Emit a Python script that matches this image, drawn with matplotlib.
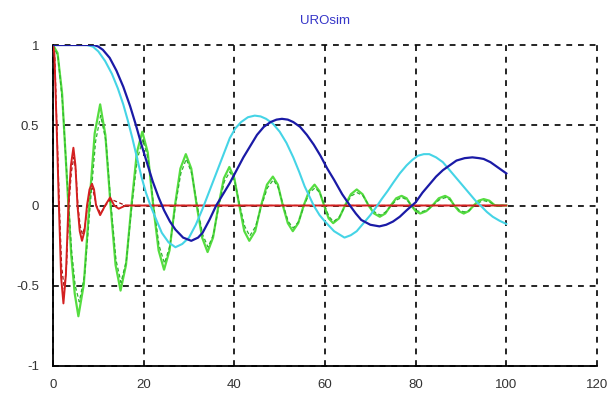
import matplotlib
matplotlib.use("Agg")
import matplotlib.pyplot as plt

# ---- data ----
blue_x = [0, 9, 10, 11, 12.5, 14, 15.5, 17, 18.3, 19.5, 20.8, 22, 23.3, 24.5, 25.8, 27, 28.7, 30.5,
          32, 33, 34.5, 36, 37.5, 39, 40.5, 42, 43.5, 45, 46.5, 48, 49.3, 50.5, 51.8, 53, 54.5, 56,
          57.5, 59, 60.5, 62, 63.8, 65.5, 66.8, 68, 70, 72, 73.5, 75, 76.5, 78, 80, 81.5, 83, 84.5,
          86, 87.5, 89, 90.8, 92.5, 94, 95, 96.5, 98, 100]
blue_y = [1, 1, 0.99, 0.97, 0.92, 0.84, 0.74, 0.62, 0.5, 0.38, 0.26, 0.15, 0.05, -0.03, -0.1, -0.15,
          -0.2, -0.22, -0.2, -0.17, -0.09, 0.0, 0.07, 0.14, 0.22, 0.3, 0.37, 0.44, 0.49, 0.52, 0.535,
          0.54, 0.535, 0.52, 0.49, 0.44, 0.38, 0.31, 0.23, 0.16, 0.07, 0.0, -0.05, -0.09, -0.12,
          -0.13, -0.12, -0.1, -0.07, -0.03, 0.02, 0.08, 0.13, 0.18, 0.22, 0.25, 0.28, 0.295, 0.3,
          0.295, 0.29, 0.27, 0.24, 0.2]

cyan_x = [0, 7.5, 8.8, 10, 11.5, 13, 14.3, 15.5, 16.5, 17.5, 18.5, 19.5, 20.5, 21.5, 22.8, 24, 25.5,
          27, 28.5, 30, 31.5, 33, 34.5, 36, 37.5, 39, 40.2, 41.5, 43, 44.5, 45.8, 47, 48.5, 50, 51.5,
          53, 54.3, 55.5, 56.5, 57.5, 58.8, 60, 62, 64.3, 65.7, 67, 68.5, 70, 71.3, 72.5, 73.8, 75,
          76.5, 78, 79.3, 80.5, 81.8, 83, 84.5, 86, 87.5, 89, 90.5, 92, 93.2, 94.3, 95.7, 97, 98.5,
          100]
cyan_y = [1, 1, 0.99, 0.96, 0.9, 0.82, 0.73, 0.63, 0.53, 0.42, 0.3, 0.18, 0.08, 0.0, -0.09, -0.17,
          -0.23, -0.26, -0.24, -0.2, -0.12, -0.02, 0.09, 0.2, 0.31, 0.42, 0.48, 0.52, 0.55, 0.56,
          0.555, 0.54, 0.51, 0.46, 0.39, 0.3, 0.21, 0.12, 0.06, 0.0, -0.06, -0.1, -0.16, -0.2,
          -0.185, -0.16, -0.11, -0.06, -0.01, 0.04, 0.09, 0.14, 0.2, 0.25, 0.285, 0.31, 0.32, 0.32,
          0.3, 0.27, 0.22, 0.17, 0.12, 0.07, 0.03, 0.0, -0.04, -0.07, -0.095, -0.115]

green_x = [0, 1, 2, 3, 4, 4.8, 5.6, 6.8, 8.0, 9.2, 10.4, 11.55, 12.7, 13.8, 14.9, 16.1, 17.3, 18.5,
           19.7, 20.9, 22.1, 23.3, 24.5, 25.7, 26.9, 28.1, 29.3, 30.5, 31.7, 32.9, 34.1, 35.3, 36.5,
           37.7, 38.9, 40.0, 41.1, 42.2, 43.3, 44.6, 45.9, 47.2, 48.5, 49.6, 50.7, 51.8, 52.9, 54.1,
           55.3, 56.5, 57.7, 58.75, 59.8, 60.8, 61.8, 63.1, 64.4, 65.7, 67, 68.3, 69.6, 70.85, 72.1,
           73.3, 74.5, 75.7, 76.9, 78, 79, 80, 81, 82.35, 83.7, 85.1, 86.5, 87.5, 88.5, 89.55, 90.6,
           91.7, 92.8, 93.9, 95, 96.25, 97.5, 100]
green_y = [1, 0.95, 0.7, 0.2, -0.3, -0.55, -0.69, -0.49, 0.0, 0.45, 0.63, 0.44, 0.0, -0.37, -0.53,
           -0.37, 0.0, 0.33, 0.46, 0.33, 0.0, -0.28, -0.4, -0.28, 0.0, 0.23, 0.32, 0.23, 0.0, -0.2,
           -0.29, -0.2, 0.0, 0.17, 0.24, 0.17, 0.0, -0.16, -0.22, -0.16, 0.0, 0.13, 0.18, 0.13, 0.0,
           -0.11, -0.16, -0.11, 0.0, 0.09, 0.13, 0.09, 0.0, -0.08, -0.11, -0.08, 0.0, 0.07, 0.1, 0.07,
           0.0, -0.05, -0.07, -0.05, 0.0, 0.045, 0.06, 0.045, 0.0, -0.035, -0.05, -0.035, 0.0, 0.045,
           0.06, 0.045, 0.0, -0.035, -0.05, -0.035, 0.0, 0.03, 0.04, 0.03, 0.0, 0.0]

green2_x = [0, 1.1, 2.1, 3.1, 4.1, 4.9, 5.8, 7.0, 8.2, 9.4, 10.5, 11.7, 12.8, 13.9, 15.0, 16.2, 17.4,
            18.6, 19.8, 21.0, 22.2, 23.4, 24.6, 25.8, 27.0, 28.2, 29.4, 30.6, 31.8, 33.0, 34.2, 35.4,
            36.6, 37.8, 39.0, 40.1, 41.2, 42.3, 43.4, 44.7, 46.0, 47.3, 48.6, 49.7, 50.8, 51.9, 53.0,
            54.2, 55.4, 56.6, 57.8, 58.85, 59.9, 60.9, 61.9, 63.2, 64.5, 65.8, 67.1, 68.4, 69.7,
            70.95, 72.2, 73.4, 74.6, 75.8, 77.0, 78.1, 79.1, 80.1, 81.1, 82.45, 83.8, 85.2, 86.6,
            87.6, 88.6, 89.65, 90.7, 91.8, 92.9, 94.0, 95.1, 96.35, 97.6, 100]
green2_y = [1, 0.93, 0.64, 0.17, -0.28, -0.5, -0.6, -0.43, 0.0, 0.4, 0.56, 0.4, 0.0, -0.34, -0.48,
            -0.34, 0.0, 0.29, 0.41, 0.29, 0.0, -0.25, -0.36, -0.25, 0.0, 0.2, 0.29, 0.2, 0.0, -0.18,
            -0.26, -0.18, 0.0, 0.15, 0.21, 0.15, 0.0, -0.13, -0.19, -0.13, 0.0, 0.11, 0.16, 0.11, 0.0,
            -0.1, -0.14, -0.1, 0.0, 0.08, 0.11, 0.08, 0.0, -0.07, -0.1, -0.07, 0.0, 0.06, 0.08, 0.06,
            0.0, -0.04, -0.06, -0.04, 0.0, 0.035, 0.05, 0.035, 0.0, -0.03, -0.04, -0.03, 0.0, 0.035,
            0.05, 0.035, 0.0, -0.03, -0.04, -0.03, 0.0, 0.02, 0.03, 0.02, 0.0, 0.0]

red_x = [0, 0.3, 0.8, 1.3, 1.8, 2.3, 2.85, 3.4, 3.95, 4.5, 4.95, 5.4, 5.9, 6.4, 6.95, 7.5, 8.05, 8.6,
         9.05, 9.5, 10.4, 11.5, 12.6, 13.5, 14.5, 16, 100]
red_y = [1, 0.95, 0.5, 0.0, -0.45, -0.61, -0.43, 0.0, 0.25, 0.36, 0.25, 0.0, -0.16, -0.22, -0.16, 0.0,
         0.1, 0.135, 0.1, 0.0, -0.06, 0.0, 0.05, 0.0, -0.02, 0.0, 0.0]

red2_x = [0, 0.4, 0.9, 1.4, 1.9, 2.5, 3.0, 3.5, 4.05, 4.6, 5.05, 5.5, 6.0, 6.5, 7.05, 7.6, 8.1, 8.7,
          9.6, 10.5, 11.6, 12.7, 16, 100]
red2_y = [1, 0.92, 0.45, 0.0, -0.38, -0.52, -0.37, 0.0, 0.21, 0.3, 0.21, 0.0, -0.13, -0.18, -0.13,
          0.0, 0.08, 0.11, 0.0, -0.05, 0.0, 0.04, 0.0, 0.0]

x_ticks = [0, 20, 40, 60, 80, 100, 120]
y_ticks = [-1, -0.5, 0, 0.5, 1]
y_labels = ["-1", "-0.5", "0", "0.5", "1"]

# ---- figure ----
plt.rcParams['font.family'] = ['Liberation Sans', 'DejaVu Sans']
fig = plt.figure(figsize=(6.12, 3.93), dpi=100)
ax = fig.add_axes([53/612, 27/393, 544/612, 321/393])

ax.plot(green_x, green_y, color='#55dd40', lw=1.6, zorder=3)
ax.plot(green2_x, green2_y, color='#2fb52f', lw=0.9, ls=(0, (3, 2)), zorder=3.1)
ax.plot(red2_x, red2_y, color='#a01010', lw=0.9, ls=(0, (3, 2)), zorder=3.9)
ax.plot(red_x, red_y, color='#d42020', lw=1.4, zorder=4)
ax.plot(cyan_x, cyan_y, color='#45d4e6', lw=1.5, zorder=5)
ax.plot(blue_x, blue_y, color='#1a1aa6', lw=1.6, zorder=6)

ax.set_xlim(0, 120)
ax.set_ylim(-1, 1)
ax.set_xticks(x_ticks)
ax.set_xticklabels([str(t) for t in x_ticks])
ax.set_yticks(y_ticks)
ax.set_yticklabels(y_labels)
ax.grid(True, color='black', ls=(0, (3.5, 3.5)), lw=1.2)
for t in ax.get_xgridlines() + ax.get_ygridlines():
    t.set_clip_on(False)
ax.set_axisbelow(True)

ax.spines['top'].set_visible(False)
ax.spines['right'].set_visible(False)
ax.spines['left'].set_linewidth(1.3)
ax.spines['bottom'].set_linewidth(1.3)
ax.tick_params(axis='x', length=0, labelsize=9.5, colors='#333333', pad=9)
ax.tick_params(axis='y', length=0, labelsize=9.5, colors='#333333', pad=10)

ax.set_title("UROsim", color='#3535c8', fontsize=9.5, pad=15)

fig.savefig("out.png", dpi=100)
